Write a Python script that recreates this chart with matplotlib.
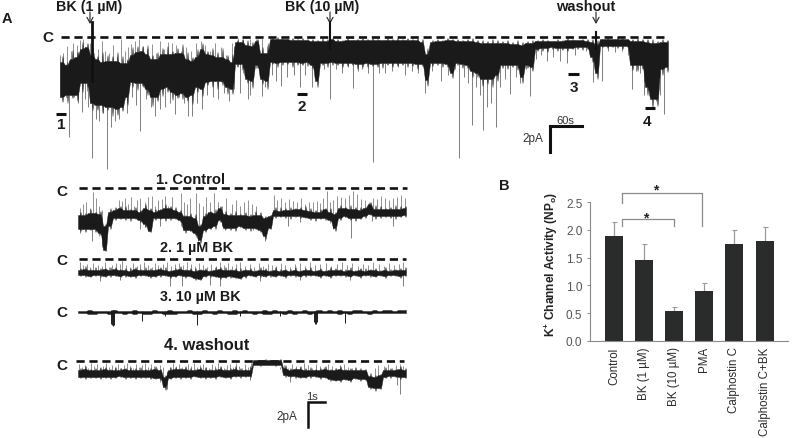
import numpy as np
import matplotlib
matplotlib.use("Agg")
import matplotlib.pyplot as plt

plt.rcParams['font.family'] = ['Liberation Sans', 'DejaVu Sans']
plt.rcParams['mathtext.default'] = 'regular'

# ---------- Panel B data ----------
conditions = ['Control', 'BK (1 \u00b5M)', 'BK (10 \u00b5M)', 'PMA', 'Calphostin C', 'Calphostin C+BK']
npo_mean = [1.9, 1.45, 0.54, 0.9, 1.75, 1.8]
npo_err = [0.25, 0.3, 0.07, 0.15, 0.25, 0.25]
npo_ticks = [0.0, 0.5, 1.0, 1.5, 2.0, 2.5]

# ---------- Panel A overview trace: depth below closed level, one reading every 5 samples ----------
over_start = 60
over_top = [25,28,22,20,12,10,18,22,25,24,
            24,24,26,26,18,15,14,17,22,22,
            17,17,17,16,16,22,24,20,12,17,
            18,20,20,22,25,5,5,8,9,4,
            16,16,2,2,2,2,3,3,3,3,
            4,4,4,4,2,4,4,3,3,3,
            3,3,3,3,3,3,3,3,3,3,
            3,3,5,17,5,4,4,3,3,4,
            4,4,4,5,6,6,6,6,6,6,
            7,7,8,6,6,4,4,4,4,4,
            4,3,3,3,3,4,5,8,2,2,
            2,2,2,2,4,4,4,5,6,6,
            5,5]
over_bot = [60,58,58,58,46,46,66,68,68,70,
            70,72,70,60,45,46,46,52,60,60,
            52,50,55,58,56,60,58,50,52,45,
            44,44,44,50,52,27,27,42,44,28,
            42,44,25,26,25,25,25,25,26,25,
            28,44,26,26,25,26,26,26,26,27,
            27,26,27,27,26,26,26,26,26,26,
            26,27,27,43,26,26,26,27,36,26,
            27,28,34,36,42,42,42,38,28,28,
            28,28,40,28,30,12,11,11,10,11,
            11,11,11,10,10,10,20,36,9,9,
            9,9,9,9,28,28,28,50,62,62,
            32,30]
# how far the raggedness passes the core edge between two readings
over_rag_up = [6,3,9,5,7,4,8,3,10,6,5,9,7,4,8,6,5,9,4,7,
               6,8,3,5,9,7,4,8,6,3,7,5,9,4,8,2,3,5,4,2,
               6,8,1,2,1,0,2,1,2,1,2,1,3,2,1,2,1,2,0,1,
               2,1,2,1,0,2,1,2,1,2,1,2,3,6,2,2,1,2,1,2,
               1,2,3,2,3,2,4,3,2,3,2,4,3,2,3,1,2,1,0,2,
               1,2,1,0,1,2,3,5,0,1,0,2,1,0,2,3,2,3,4,2,3,2]
over_rag_dn = [5,8,3,6,9,4,7,5,8,3,9,6,4,8,5,7,3,6,9,4,
               7,5,8,3,6,4,9,5,7,3,6,8,4,7,5,3,6,4,7,3,
               5,8,2,4,3,2,5,3,2,4,3,6,2,4,3,2,4,3,2,5,
               3,4,2,3,5,2,4,3,2,4,3,5,2,6,3,2,4,3,5,2,
               4,3,6,4,7,5,8,6,3,4,2,5,6,3,4,2,3,4,2,3,
               2,3,1,2,3,2,5,6,1,2,1,2,3,1,5,6,4,8,9,7,6,5]
over_down_x = [62,66,69,74,78,82,85,88,92,96,99,103,107,111,115,119,123,127,132,136,
               140,146,151,155,160,165,170,175,179,184,188,192,197,202,207,213,218,224,229,234,
               240,248,250,262,265,272,276,281,287,294,300,305,312,318,324,330,336,342,348,353,
               358,362,368,373,379,385,392,398,405,412,418,425,432,441,448,455,459,464,468,472,
               476,480,483,487,491,496,500,505,510,516,520,526,530,536,541,547,553,560,567,575,
               586,593,597,602,608,615,622,628,632,636,640,644,648,652,656,660,664]
over_down_d = [52,60,100,60,66,75,62,70,121,82,84,76,132,90,84,82,70,76,60,68,
               94,62,70,79,72,70,66,77,60,66,79,79,66,72,58,60,62,56,64,52,
               56,62,58,59,50,38,44,49,40,38,50,38,50,34,32,62,32,36,30,51,
               34,32,36,125,36,36,34,30,38,34,36,56,34,44,38,32,121,40,46,88,
               50,58,93,70,66,90,50,42,57,40,46,32,59,22,18,24,20,24,26,18,
               14,45,30,44,14,15,14,18,52,34,36,58,50,62,64,58,77]
over_up_x = [60,63,67,71,73,77,80,83,87,90,94,98,102,105,109,113,117,121,125,128,
             131,135,139,143,147,152,156,160,164,168,172,176,181,186,191,196,201,205,210,215,
             221,226,232,238,243,250,256,262,268]
over_up_d = [18,16,9,14,6,8,3,2,14,6,16,12,4,14,16,8,20,2,14,10,
             7,4,2,9,12,7,16,4,12,5,6,8,14,10,14,6,4,8,14,6,
             10,18,6,1,2,2,2,1,6]

# ---------- Panel A detail traces, one reading every 5 samples from sample 78 ----------
detail_start = 78
t1_top = [27,27,25,25,26,38,24,22,20,22,22,22,24,20,22,24,22,20,20,22,24,28,28,30,38,28,24,25,20,26,27,27,27,27,28,27,27,30,28,22,23,22,22,21,21,22,23,24,24,21,24,26,20,20,21,21,22,20,16,21,21,21,21,21,21,20]
t1_bot = [41,41,41,41,45,62,38,30,30,30,30,30,32,36,43,30,30,30,30,30,32,42,42,45,52,42,40,38,32,40,40,40,38,40,40,40,42,48,40,28,28,28,28,28,28,29,30,30,30,30,32,40,30,28,30,30,30,28,26,28,28,28,28,28,28,27]
t1_rag_up = [3,2,4,1,3,2,4,3,2,4,1,3,2,4,2,3,1,4,2,3,2,1,3,4,2,3,1,4,2,3,2,4,1,3,2,4,3,2,1,3,4,2,3,1,2,4,3,2,3,1,4,2,3,1,4,2,3,1,2,4,3,1,2,4,3,2]
t1_rag_dn = [2,3,1,3,2,1,3,2,1,2,3,1,2,3,1,2,1,3,2,1,2,3,1,2,3,2,1,3,2,1,2,3,1,2,3,1,2,3,1,2,1,2,3,1,2,1,2,3,1,2,1,3,2,1,2,3,1,2,1,3,2,1,2,3,1,2]
t1_up_x = [80,83,86,90,93,96,99,102,116,119,122,125,128,131,134,137,140,145,148,152,155,158,162,165,168,172,181,184,187,190,196,199,203,206,210,214,218,222,226,232,236,240,244,248,252,256,274,277,281,285,289,293,297,301,305,309,313,317,320,323,327,330,333,337,341,345,349,353,357,361,365,369,373,377,381,385,389,393,397,401,405]
t1_up_d = [20,16,14,20,4,10,18,22,20,12,13,10,16,9,18,12,10,14,9,8,18,12,11,8,18,9,5,14,16,10,5,15,18,9,14,5,14,18,10,16,12,18,14,12,16,18,7,12,10,14,11,13,14,10,16,14,14,13,15,10,3,14,12,8,9,10,7,3,6,11,12,14,10,11,8,10,12,10,9,7,10]
t1_dn_x = [92,140,198,253,265,288,333,351,393,80,110,160,225,300,372]
t1_dn_d = [53,41,53,42,53,38,41,50,38,45,34,38,42,34,33]

t2_top = [11,10,11,11,11,10,11,10,11,11,12,10,11,11,11,11,10,11,12,11,10,11,11,12,11,11,12,11,10,11,11,11,12,11,11,12,11,11,12,11,12,11,12,11,12,11,11,12,11,12,11,11,11,12,11,12,11,12,11,11,12,11,12,11,11,11]
t2_bot = [16,16,17,16,16,17,16,16,17,16,17,17,16,16,17,17,16,16,17,17,16,17,17,19,20,17,16,17,18,18,17,18,19,17,16,17,16,17,16,17,16,17,16,16,17,16,16,16,17,16,17,16,16,16,17,16,17,16,16,17,16,17,16,16,17,16]
t2_rag_up = [2,3,1,3,2,1,3,2,1,2,3,2,1,3,2,1,2,3,1,2,3,1,2,3,1,2,1,3,2,3,1,2,3,1,2,1,3,2,1,3,2,1,2,3,1,2,3,1,2,1,3,2,1,2,3,1,2,3,1,2,1,3,2,1,2,3]
t2_rag_dn = [1,2,1,1,2,1,2,1,1,2,1,2,1,1,2,1,2,1,2,1,1,2,1,2,1,1,2,1,2,1,2,1,1,2,1,1,2,1,2,1,1,2,1,2,1,2,1,1,2,1,2,1,1,2,1,1,2,1,2,1,1,2,1,1,2,1]
t2_up_x = [80,83,87,90,93,98,102,105,109,112,116,120,122,126,130,133,137,140,144,148,152,155,158,163,167,171,175,179,183,187,191,195,199,203,207,211,216,220,224,228,232,236,240,245,250,254,259,263,268,272,276,281,285,290,295,300,305,310,315,320,326,331,337,342,347,352,358,363,368,373,379,384,389,394,399,403]
t2_up_d = [3,6,5,8,4,6,7,3,8,6,4,5,1,6,8,4,7,5,3,6,8,4,6,5,3,7,5,4,6,3,5,7,4,6,8,5,7,3,6,4,7,5,3,7,5,8,4,7,5,6,7,4,6,8,5,4,7,3,6,5,4,7,5,3,6,4,7,5,6,3,5,7,4,6,5,3]
t2_dn_x = [170,182,210,220,120,300,260,350,403,100]
t2_dn_d = [27,27,26,27,21,21,22,21,27,22]

t3_top = [-1,-1,-2,-1,-1,-1,-1,-2,-1,-1,-1,-2,-1,-1,-1,-2,-1,-1,-2,-1,-1,-1,-2,-1,-1,-2,-1,-1,-2,-1,-1,-2,-1,-2,-1,-1,-1,-2,-1,-2,-1,-1,-2,-1,-1,-2,-1,-1,-2,-1,-2,-1,-2,-1,-1,-2,-2,-1,-1,-2,-1,-2,-2,-1,-2,-2]
t3_bot = [1,1,2,2,1,1,2,1,1,2,1,2,1,2,2,1,1,2,2,2,1,1,1,2,2,1,1,2,1,1,2,2,1,1,1,2,1,2,2,1,1,2,1,2,1,1,2,1,1,1,1,1,2,1,2,1,1,1,2,1,1,1,1,1,1,1]
t3_dn_x = [111,112,113,114,142,197,314,315,316,317,345,165,240,280]
t3_dn_d = [12,13,14,13,9,13,10,12,12,10,11,4,4,4]

t4_top = [9,8,9,9,9,8,9,9,9,8,9,9,9,9,9,8,9,16,9,8,8,8,9,9,8,9,9,9,8,9,9,8,9,9,9,-1,-1,-1,-1,-1,-1,7,9,8,8,9,9,9,9,8,9,9,8,9,9,9,9,9,15,16,14,9,9,9,8,9]
t4_bot = [16,16,16,16,16,16,16,16,15,16,16,16,16,16,16,17,17,26,17,16,16,16,16,15,16,16,16,16,15,16,16,15,15,15,15,4,4,4,4,4,4,14,15,15,16,16,15,15,16,16,18,19,19,18,19,17,18,18,26,27,27,16,15,15,16,16]
t4_rag_up = [2,3,1,2,3,2,1,3,2,1,3,2,3,1,2,3,1,2,3,2,1,3,2,1,2,3,1,2,3,1,2,3,2,1,3,0,0,1,0,0,1,3,2,1,3,2,3,1,2,3,1,2,3,1,2,3,2,1,3,2,1,3,2,1,3,2]
t4_rag_dn = [1,2,1,1,2,1,2,1,1,2,1,2,1,1,2,1,2,3,1,1,2,1,2,1,1,2,1,2,1,1,2,1,2,1,1,0,1,0,0,1,0,2,1,2,1,1,2,1,2,1,2,1,2,1,2,1,2,1,2,3,1,1,2,1,2,1]
t4_up_x = [79,82,85,88,91,94,97,100,103,106,109,112,115,118,121,124,127,130,133,136,139,142,145,148,151,154,157,160,163,170,173,176,179,182,185,188,191,194,197,200,203,206,209,212,215,218,221,224,227,230,233,236,239,242,245,248,251,276,280,284,288,292,296,300,304,308,312,316,320,324,328,332,336,340,344,348,352,375,378,384,388,392,396,400,403]
t4_up_d = [3,6,4,7,2,5,3,7,5,2,6,4,6,3,7,4,2,5,7,3,6,4,2,6,3,5,7,4,6,6,2,5,3,6,7,3,5,2,6,4,3,6,7,3,5,2,6,7,4,3,6,2,5,7,3,6,2,3,6,4,7,3,5,6,2,4,7,3,5,6,3,5,7,4,3,6,7,7,4,5,3,7,4,3,5]
t4_dn_x = [400,167,397,250,290]
t4_dn_d = [33,28,24,19,21]

W, H = 800, 439
DARK = '#1a1a1a'
GREY = '#7f7f7f'
fig = plt.figure(figsize=(8, 4.39), dpi=100)


def trace_axes(closed_y):
    ax = fig.add_axes([0, 0, 1, 1], facecolor='none')
    ax.set_xlim(0, W)
    ax.set_ylim(H - closed_y, -closed_y)
    ax.axis('off')
    return ax


def spikes(ax, xs, ds, base_x, base, lw, color=GREY):
    if len(xs):
        ax.vlines(xs, np.interp(xs, base_x, base), ds, color=color, lw=lw, zorder=2)


def ragged(start, edge, rag, sign):
    """Edge outline: each reading, then one narrow tooth halfway to the next."""
    xs, ys = [], []
    for i, (e, r) in enumerate(zip(edge, rag)):
        x = start + 5 * i
        xs += [x, x + 2, x + 2.5, x + 3]
        ys += [e, e, e + sign * r, e]
    return np.array(xs), np.array(ys)


def draw_trace(closed_y, start, top, bot, rag_up=None, rag_dn=None, up_x=(), up_d=(), dn_x=(), dn_d=(),
               dash=None, spike_color=GREY, spike_lw=0.7):
    ax = trace_axes(closed_y)
    x = start + 5 * np.arange(len(top))
    if dash is not None:
        ax.plot(dash, [0, 0], color='#111111', lw=1.9, dashes=(3.1, 1.8), zorder=1)
    spikes(ax, up_x, up_d, x, bot, 0.6)
    spikes(ax, dn_x, dn_d, x, top, spike_lw, spike_color)
    xt, yt = ragged(start, top, rag_up if rag_up is not None else [0] * len(top), -1)
    xb, yb = ragged(start, bot, rag_dn if rag_dn is not None else [0] * len(bot), 1)
    ax.fill_between(xt, yt, yb, color=DARK, lw=0.3, zorder=3)
    return ax


# Panel A overview
ax0 = draw_trace(38, over_start, over_top, over_bot, over_rag_up, over_rag_dn, over_up_x, over_up_d,
                 over_down_x, over_down_d, dash=[61, 668])
for x, y0, y1, lw in [(91.5, -15, 44, 2.0), (330, -15, 12, 1.5), (596, -5, 12, 1.5)]:
    ax0.plot([x, x], [y0, y1], color='#111111', lw=lw, zorder=4)
for x, y0, y1 in [(90, -25, -13), (330, -25, -13), (596, -25, -13)]:
    ax0.annotate('', xy=(x, y1), xytext=(x, y0),
                 arrowprops=dict(arrowstyle='->,head_width=0.22,head_length=0.4', lw=0.8, color='#222222', shrinkA=0, shrinkB=0))
for x0, x1, y in [(56, 66, 77), (297, 307, 57), (568, 579, 37), (645, 655, 71)]:
    ax0.plot([x0, x1], [y, y], color='#111111', lw=2.2, solid_capstyle='butt')
ax0.plot([550, 550, 582], [115, 89, 89], color='#111111', lw=2.2, solid_joinstyle='miter')

# Panel A details
draw_trace(189, detail_start, t1_top, t1_bot, t1_rag_up, t1_rag_dn, t1_up_x, t1_up_d, t1_dn_x, t1_dn_d, dash=[79, 407])
draw_trace(260, detail_start, t2_top, t2_bot, t2_rag_up, t2_rag_dn, t2_up_x, t2_up_d, t2_dn_x, t2_dn_d, dash=[79, 406])
draw_trace(313, detail_start, t3_top, t3_bot, dn_x=t3_dn_x, dn_d=t3_dn_d, spike_color=DARK, spike_lw=0.7)
ax4 = draw_trace(362, detail_start, t4_top, t4_bot, t4_rag_up, t4_rag_dn, t4_up_x, t4_up_d, t4_dn_x, t4_dn_d, dash=[76, 404])
ax4.plot([308, 308, 325], [66, 41, 41], color='#111111', lw=1.8, solid_joinstyle='miter')


def label(x, y, s, size=9.5, weight='bold', color='#1a1a1a', ha='center'):
    fig.text(x / W, 1 - y / H, s, fontsize=size, fontweight=weight, color=color, ha=ha, va='center')


label(7, 19, 'A', 10.5)
label(504, 186, 'B', 10.5)
label(89, 7, 'BK (1 \u00b5M)', 10.3)
label(322, 7, 'BK (10 \u00b5M)', 10.3)
label(586, 7, 'washout', 10.5)
label(48, 38, 'C', 11)
for y in (192, 261, 313, 366):
    label(62, y, 'C', 11)
for x, y, s in [(61, 125, '1'), (302, 107, '2'), (574, 88, '3'), (647, 122, '4')]:
    label(x, y, s, 11)
label(190, 180, '1. Control', 10.7)
label(196, 248, '2. 1 \u00b5M BK', 10.4)
label(200, 297, '3. 10 \u00b5M BK', 10.3)
label(207, 346, '4. washout', 11.9)
label(565, 121, '60s', 8, 'normal', '#333333')
label(533, 139, '2pA', 8.5, 'normal', '#333333')
label(312, 397, '1s', 8, 'normal', '#333333')
label(287, 417, '2pA', 8.5, 'normal', '#333333')

# Panel B
axb = fig.add_axes([590 / W, 1 - 341.7 / H, (788 - 590) / W, (341.7 - 203.3) / H], facecolor='none')
pos = np.arange(len(conditions))
axb.bar(pos, npo_mean, width=0.6, color='#2a2c2c', zorder=2)
axb.errorbar(pos, npo_mean, yerr=[np.zeros(len(pos)), npo_err], fmt='none', ecolor='#9a9a9a', elinewidth=0.9,
             capsize=1.8, capthick=0.8, zorder=1)
axb.set_xlim(-0.8, 5.78)
axb.set_ylim(0, 2.5)
axb.set_yticks(npo_ticks, [f'{v:.1f}' for v in npo_ticks])
axb.set_xticks(pos, conditions, rotation=90)
axb.tick_params(axis='x', length=0, pad=4, labelsize=8.3, labelcolor='#2a2a2a')
axb.tick_params(axis='y', length=2.5, width=0.7, color='#888888', pad=3, labelsize=8.5, labelcolor='#555555')
for side in ('top', 'right'):
    axb.spines[side].set_visible(False)
for side in ('left', 'bottom'):
    axb.spines[side].set_color('#8a8a8a')
    axb.spines[side].set_linewidth(0.8)
axb.plot([0.25, 0.25, 2.93, 2.93], [2.48, 2.66, 2.66, 2.07], color='#8a8a8a', lw=0.9, clip_on=False)
axb.plot([0.28, 0.28, 1.99, 1.99], [2.07, 2.19, 2.19, 2.07], color='#8a8a8a', lw=0.9, clip_on=False)
axb.text(1.06, 2.22, '*', fontsize=10, fontweight='bold', ha='center', va='center', color='#222222')
axb.text(1.4, 2.74, '*', fontsize=10, fontweight='bold', ha='center', va='center', color='#222222')
fig.text(551 / W, 1 - 265 / H, r'K$^{+}$ Channel Activity (NP$_{o}$)', rotation=90, fontsize=8.6, fontweight='bold',
         color='#222222', ha='center', va='center')

fig.savefig('out.png', dpi=100)
